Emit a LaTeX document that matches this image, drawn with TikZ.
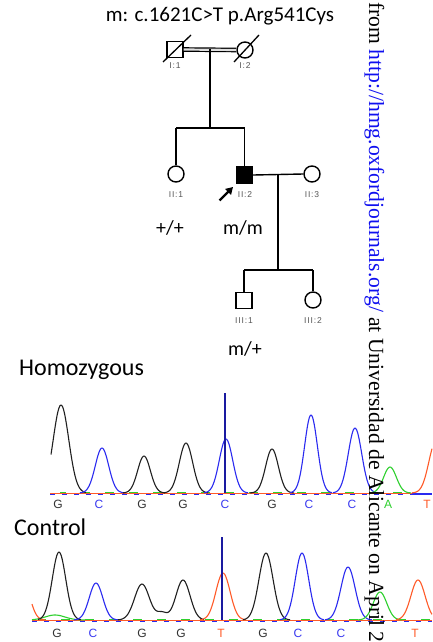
\documentclass[tikz,border=0pt]{standalone}
\usepackage{fontspec}
\usetikzlibrary{arrows.meta}
\newfontfamily\calfnt{Carlito}
\newfontfamily\arialfnt{Liberation Sans}
\newfontfamily\lblfnt[LetterSpace=10]{Liberation Sans}
\newfontfamily\wmfnt{Liberation Serif}
\definecolor{tblack}{HTML}{202020}
\definecolor{tblue}{HTML}{2A2AF0}
\definecolor{tgreen}{HTML}{2ED02E}
\definecolor{torange}{HTML}{FF5A28}
\definecolor{vline}{HTML}{1A1AA0}
\definecolor{wmblue}{HTML}{1010F0}
\definecolor{lblgray}{HTML}{555555}
\definecolor{gcol}{HTML}{333333}
\definecolor{ccol}{HTML}{3A3AF0}
\newcommand\trpeak[7]{\draw[trace,#1] plot[domain=#6:#7,samples=40,smooth] (\x,{#5-#3*exp(-((\x-#2)/#4)^2)});}
\tikzset{
 pedline/.style={line width=1.4pt, black},
 sqsym/.style={draw, line width=1.4pt, rectangle, minimum size=16pt, inner sep=0pt, fill=white},
 cisym/.style={draw, line width=1.4pt, circle, minimum size=16pt, inner sep=0pt, fill=white},
 idlbl/.style={font=\lblfnt\fontsize{8.5}{10}\selectfont, text=lblgray, inner sep=0pt},
 geno/.style={font=\calfnt\fontsize{20}{24}\selectfont, anchor=base, inner sep=0pt},
 sect/.style={font=\calfnt\fontsize{24}{28}\selectfont, anchor=base west, inner sep=0pt},
 trace/.style={line width=1.1pt, line join=round},
 baselbl/.style={font=\arialfnt\fontsize{12}{14}\selectfont, inner sep=0pt, anchor=base},
 vmark/.style={line width=1.2pt, vline},
}
\begin{document}
\begin{tikzpicture}[x=1pt,y=-1pt]
\useasboundingbox (0,0) rectangle (432,642);
\fill[white] (0,0) rectangle (432,642);
% ---------- pedigree ----------
\node[font=\calfnt\fontsize{21}{25}\selectfont, anchor=base, inner sep=0pt] (title) at (220,22) {m: c.1621C>T p.Arg541Cys};
\node[sqsym] (I1) at (175,49.5) {};
\node[cisym] (I2) at (245,50) {};
\draw[line width=1.2pt, double=gray!25, double distance=2.2pt] (I1.east) -- (I2.west);
\draw[line width=1.3pt] (I1.center) +(-12,12.5) -- +(16,-14.5);
\draw[line width=1.3pt] (I2.center) +(-11,12) -- +(14,-15);
\coordinate (mate1) at (210,49.5);
\coordinate (sib1) at (210,128);
\node[cisym] (II1) at (176,174) {};
\node[sqsym, fill=black] (II2) at (244.5,175) {};
\node[cisym] (II3) at (312,174) {};
\draw[pedline] (mate1) -- (sib1);
\draw[pedline] (II1.north |- sib1) -- (II2.north |- sib1);
\draw[pedline] (II1.north |- sib1) -- (II1.north);
\draw[pedline] (II2.north |- sib1) -- (II2.north);
\draw[pedline] (II2.east) -- (II3.west);
\coordinate (mate2) at (278,174.5);
\coordinate (sib2) at (278,270);
\node[sqsym] (III1) at (244,300.5) {};
\node[cisym] (III2) at (313,300) {};
\draw[pedline] (mate2) -- (sib2);
\draw[pedline] (III1.north |- sib2) -- (III2.north |- sib2);
\draw[pedline] (III1.north |- sib2) -- (III1.north);
\draw[pedline] (III2.north |- sib2) -- (III2.north);
\node[idlbl] (lI1) at (175,66) {I:1};
\node[idlbl] (lI2) at (245,66) {I:2};
\node[idlbl] (lII1) at (176,195) {II:1};
\node[idlbl] (lII2) at (245,195) {II:2};
\node[idlbl] (lII3) at (312,195) {II:3};
\node[idlbl] (lIII1) at (244,321) {III:1};
\node[idlbl] (lIII2) at (313,321) {III:2};
\coordinate (arT) at (219.5,200.5);
\coordinate (arH) at (233,187);
\draw[line width=2.4pt, -{Triangle[length=7pt,width=8pt]}] (arT) -- (arH);
\node[geno] (g1) at (170,234) {+/+};
\node[geno] (g2) at (243,234) {m/m};
\node[geno] (g3) at (245,355) {m/+};
% ---------- homozygous trace ----------
\node[sect] (hom) at (19,375) {Homozygous};
\draw[tblue, line width=1pt, dash pattern=on 5pt off 7pt] (50,494) -- (432,494);
\draw[tgreen, line width=1.2pt, dash pattern=on 9pt off 15pt, dash phase=3pt] (60,492.5) -- (410,492.5);
\draw[tblack, line width=1pt, dash pattern=on 4pt off 18pt, dash phase=10pt] (60,493.5) -- (410,493.5);
\draw[torange, line width=1pt] (50,493) -- (432,493);
\draw[tblue, line width=1.1pt] (412,494) -- (432,494);
\trpeak{tblack}{61}{88}{11}{493}{51}{86}
\trpeak{tblue}{102}{45}{9.5}{493}{80}{124}
\trpeak{tblack}{144}{37}{9}{493}{123}{165}
\trpeak{tblack}{186}{50}{9.5}{493}{164}{208}
\trpeak{tblue}{226}{54}{9.5}{493}{204}{248}
\trpeak{tblack}{272}{44}{9}{493}{250}{294}
\trpeak{tblue}{311}{78}{9}{493}{290}{332}
\trpeak{tblue}{355}{65}{9.5}{493}{333}{377}
\trpeak{tgreen}{390}{26}{9}{493}{370}{411}
\trpeak{torange}{436}{52}{10}{493}{412}{432}
\coordinate (v1t) at (225,393);
\coordinate (v1b) at (225,493);
\draw[vmark] (v1t) -- (v1b);
\node[baselbl, text=gcol] (h1) at (58,508) {G};
\node[baselbl, text=ccol] (h2) at (99,508) {C};
\node[baselbl, text=gcol] (h3) at (142,508) {G};
\node[baselbl, text=gcol] (h4) at (183,508) {G};
\node[baselbl, text=ccol] (h5) at (225,508) {C};
\node[baselbl, text=gcol] (h6) at (272,508) {G};
\node[baselbl, text=ccol] (h7) at (309,508) {C};
\node[baselbl, text=ccol] (h8) at (352,508) {C};
\node[baselbl, text=tgreen] (h9) at (388,508) {A};
\node[baselbl, text=torange] (h10) at (427,508) {T};
% ---------- control trace ----------
\node[sect] (ctl) at (14,535) {Control};
\draw[tblue, line width=1pt, dash pattern=on 5pt off 7pt] (32,621) -- (432,621);
\draw[tgreen, line width=1.2pt, dash pattern=on 9pt off 15pt, dash phase=3pt] (40,619.5) -- (432,619.5);
\draw[tblack, line width=1pt, dash pattern=on 6pt off 14pt, dash phase=10pt] (40,620.5) -- (432,620.5);
\draw[torange, line width=1pt] (32,620) -- (432,620);
\trpeak{tgreen}{55}{5}{14}{620}{32}{85}
\trpeak{torange}{24}{35}{9}{620}{32}{45}
\trpeak{tblack}{59}{68}{9.5}{620}{38}{81}
\trpeak{tblue}{96}{37}{9.5}{620}{74}{118}
\draw[trace,tblack] plot[domain=118:204,samples=70,smooth] (\x,{620-36*exp(-((\x-142)/10.5)^2)-40*exp(-((\x-183)/10)^2)-7*exp(-((\x-162)/7)^2)});
\trpeak{torange}{223}{47}{10}{620}{200}{246}
\trpeak{tblack}{266}{67}{10}{620}{243}{290}
\trpeak{tblue}{302}{67}{9.5}{620}{280}{324}
\trpeak{tblue}{348}{53}{10}{620}{325}{372}
\trpeak{tgreen}{380}{28}{9.5}{620}{358}{402}
\trpeak{torange}{418}{40}{10}{620}{396}{432}
\coordinate (v2t) at (222,537);
\coordinate (v2b) at (222,620);
\draw[vmark] (v2t) -- (v2b);
\node[baselbl, text=gcol] (c1) at (57,637) {G};
\node[baselbl, text=ccol] (c2) at (93,637) {C};
\node[baselbl, text=gcol] (c3) at (142,637) {G};
\node[baselbl, text=gcol] (c4) at (181,637) {G};
\node[baselbl, text=torange] (c5) at (221,637) {T};
\node[baselbl, text=gcol] (c6) at (263,637) {G};
\node[baselbl, text=ccol] (c7) at (298,637) {C};
\node[baselbl, text=ccol] (c8) at (341,637) {C};
\node[baselbl, text=torange] (c9) at (415,637) {T};
% ---------- watermark ----------
\begin{scope}
\clip (0,0) rectangle (432,642);
\node[rotate=-90, anchor=base west, inner sep=0pt, font=\wmfnt\fontsize{21.6}{25}\selectfont] (wm) at (369,2) {from \textcolor{wmblue}{http://hmg.oxfordjournals.org/} at Universidad de Alicante on April 20};
\end{scope}
\end{tikzpicture}
\end{document}
